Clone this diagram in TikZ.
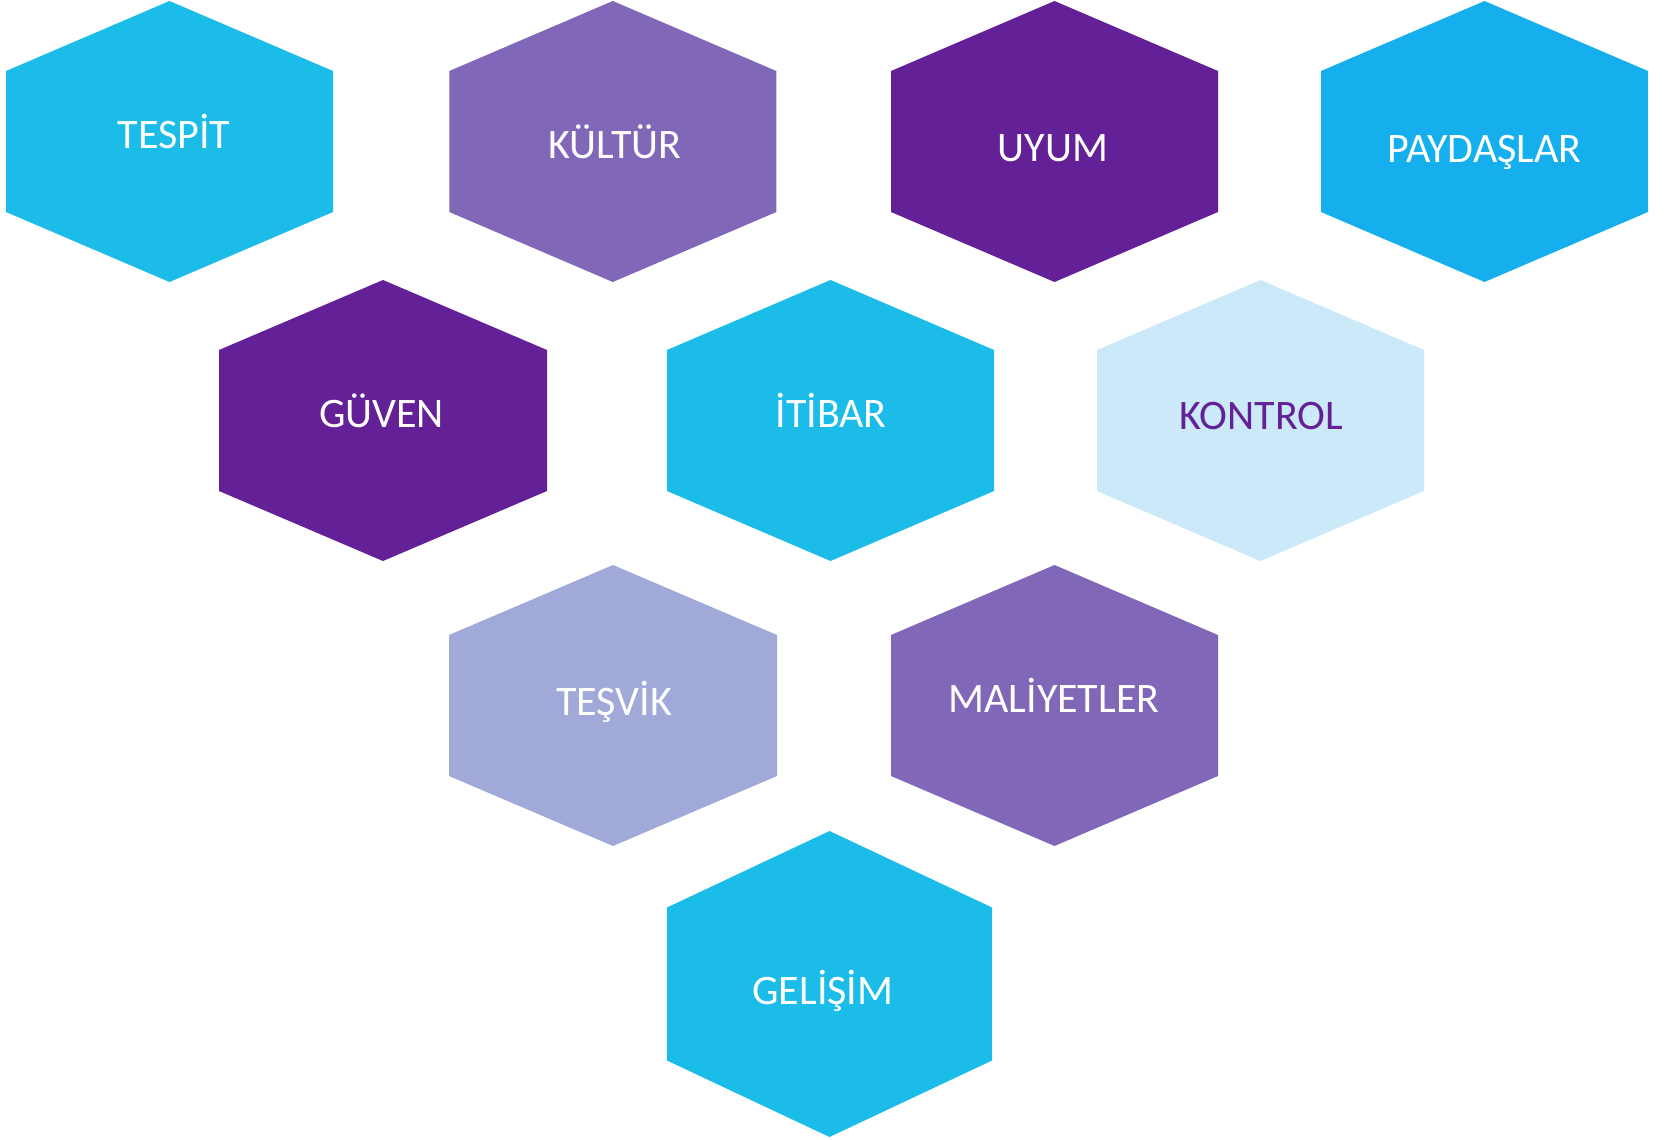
\documentclass[tikz,border=0pt]{standalone}
\usepackage{fontspec}
\setmainfont{Carlito}
\definecolor{hexcyan}{HTML}{1BBCE7}
\definecolor{hexblue}{HTML}{16AFEE}
\definecolor{hexlilac}{HTML}{8067B8}
\definecolor{hexplum}{HTML}{632097}
\definecolor{hexpale}{HTML}{CBE9F8}
\definecolor{hexlav}{HTML}{A1A9D9}
\def\hexcell[#1](#2,#3)(#4:#5:#6){\fill[#1] ({#2-#4},{#3-#6}) -- (#2,{#3-#5}) -- ({#2+#4},{#3-#6}) -- ({#2+#4},{#3+#6}) -- (#2,{#3+#5}) -- ({#2-#4},{#3+#6}) -- cycle;}
\tikzset{hexlabel/.style={text=white, font=\fontsize{21}{25}\selectfont, anchor=base, inner sep=0pt}}

\begin{document}
\begin{tikzpicture}[x=0.5pt,y=-0.5pt]
				\useasboundingbox (0,0) rectangle (1671,1140);
				
				% top row
				\hexcell[hexcyan](169.5,141.5)(163.5:140.5:70.5);
				\node[hexlabel] (tespit) at (174,148) {TESPİT};
				\hexcell[hexlilac](612.8,141.5)(163.5:140.5:70.5);
				\node[hexlabel] (kultur) at (615,158) {KÜLTÜR};
				\hexcell[hexplum](1054.5,141.5)(163.5:140.5:70.5);
				\node[hexlabel] (uyum) at (1053,161) {UYUM};
				\hexcell[hexblue](1484.5,141.5)(163.5:140.5:70.5);
				\node[hexlabel] (paydaslar) at (1484.5,162) {PAYDAŞLAR};
				
				% second row
				\hexcell[hexplum](383,420.5)(164:140.5:70.5);
				\node[hexlabel] (guven) at (381.5,427) {GÜVEN};
				\hexcell[hexcyan](830.5,420.5)(163.5:140.5:70.5);
				\node[hexlabel] (itibar) at (831,427) {İTİBAR};
				\hexcell[hexpale](1260.5,420.5)(163.5:140.5:70.5);
				\node[hexlabel, text=hexplum] (kontrol) at (1261.5,429) {KONTROL};
				
				% third row
				\hexcell[hexlav](613,705.5)(164:140.5:70.5);
				\node[hexlabel] (tesvik) at (614,715) {TEŞVİK};
				\hexcell[hexlilac](1054.5,705.5)(163.5:140.5:70.5);
				\node[hexlabel] (maliyetler) at (1054,712) {MALİYETLER};
				
				% bottom
				\hexcell[hexcyan](829.5,984)(162.5:153:76.5);
				\node[hexlabel] (gelisim) at (823,1004) {GELİŞİM};
			\end{tikzpicture}
\end{document}
